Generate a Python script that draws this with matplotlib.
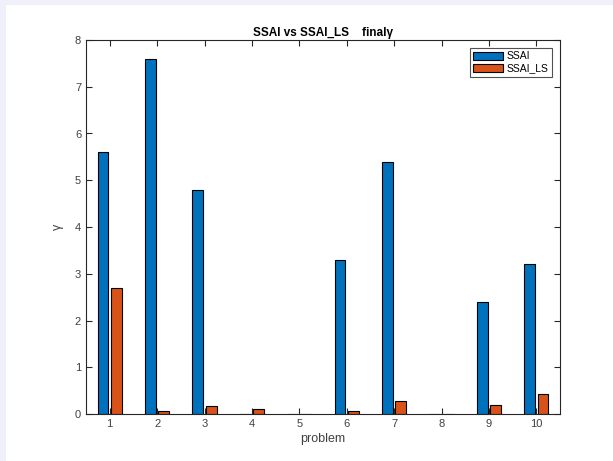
import matplotlib.pyplot as plt
import matplotlib.patches as mpatches
import numpy as np

plt.rcParams['font.family'] = ['Liberation Sans', 'DejaVu Sans']

problems = [1, 2, 3, 4, 5, 6, 7, 8, 9, 10]
ssai = [5.6, 7.6, 4.8, 0, 0, 3.3, 5.4, 0, 2.4, 3.2]
ssai_ls = [2.7, 0.07, 0.18, 0.1, 0, 0.07, 0.27, 0, 0.2, 0.43]

fig = plt.figure(figsize=(6.13, 4.61), dpi=100, facecolor='#F0F0FA')
# white figure area, lavender strip at top and left
fig.patches.append(mpatches.Rectangle((6 / 613, 0), 1, 1 - 5 / 461, transform=fig.transFigure,
                                      facecolor='white', edgecolor='none', zorder=-5))

ax = fig.add_axes([86 / 613, 1 - 414 / 461, (560 - 86) / 613, (414 - 40) / 461])
ax.set_zorder(2)

x = np.array(problems)
w = 0.2286
ax.bar(x - 0.1429, ssai, w, color='#0072BD', edgecolor='black', linewidth=0.8, label='SSAI')
ax.bar(x + 0.1429, ssai_ls, w, color='#D95319', edgecolor='black', linewidth=0.8, label='SSAI_LS')

ax.set_xlim(0.5, 10.5)
ax.set_ylim(0, 8)
ax.set_xticks(problems)
ax.set_yticks(range(0, 9))

gray = '#262626'
for s in ax.spines.values():
    s.set_color(gray)
    s.set_linewidth(0.8)
ax.tick_params(direction='in', top=True, right=True, length=4, width=0.8,
               colors=gray, labelcolor='#404040', labelsize=8)

ax.set_title('SSAI vs SSAI_LS    final\u03b3', fontsize=8.5, fontweight='bold', pad=3)
ax.set_xlabel('problem', fontsize=9, color='#404040', labelpad=3)
ax.set_ylabel('\u03b3', fontsize=9, color='#404040', labelpad=8)

leg = ax.legend(loc='upper right', fontsize=7.5, frameon=True, fancybox=False,
                edgecolor=gray, borderpad=0.3, handlelength=2.8, handleheight=0.9,
                handletextpad=0.4, labelspacing=0.2, borderaxespad=0.8)
leg.get_frame().set_linewidth(0.8)

fig.savefig('out.png', dpi=100, facecolor=fig.get_facecolor())
